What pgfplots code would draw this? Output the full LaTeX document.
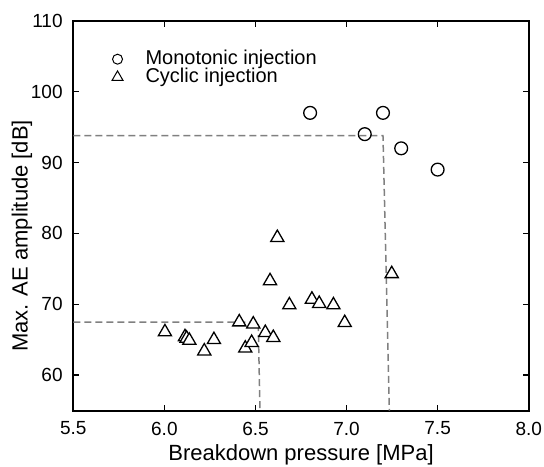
\documentclass[border=0pt]{standalone}
\usepackage{pgfplots}
\pgfplotsset{compat=1.18}
\usepackage{fontspec}
\setmainfont{Liberation Sans}
\begin{document}
\begin{tikzpicture}
\begin{axis}[
  scale only axis,
  width=227.7pt, height=195pt,
  xmin=5.5, xmax=8.0, ymin=55, ymax=110,
  xtick={5.5,6.0,6.5,7.0,7.5,8.0},
  ytick={60,70,80,90,100,110},
  /pgf/number format/assume math mode=true,
  tick label style={font=\fontsize{9.5}{11}\selectfont},
  yticklabel style={xshift=-1.8pt},
  xticklabel style={yshift=-2pt, /pgf/number format/.cd, fixed, fixed zerofill, precision=1},
  label style={font=\fontsize{11}{13}\selectfont},
  xlabel={Breakdown pressure [MPa]},
  ylabel={Max. AE amplitude [dB]},
  xlabel style={at={(axis description cs:0.5,-0.1136)}, anchor=center},
  ylabel style={at={(axis description cs:-0.1127,0.448)}, anchor=center},
  tick align=inside,
  major tick length=3pt,
  axis line style={line width=0.9pt},
  every tick/.style={line width=0.8pt, black},
  legend style={draw=none, fill=none, at={(axis description cs:0.083,0.931)}, anchor=north west,
    font=\fontsize{10}{12}\selectfont, row sep=-2.15pt, column sep=0pt, inner sep=0pt,
    nodes={inner sep=1pt, text height=7.2pt, text depth=2pt}},
  legend cell align=left,
]
\addplot[gray, line width=0.75pt, dash pattern=on 3.5pt off 2pt, forget plot]
  coordinates {(5.5,93.8) (7.2,93.8) (7.235,55)};
\addplot[gray, line width=0.75pt, dash pattern=on 3.5pt off 2pt, forget plot]
  coordinates {(5.5,67.5) (6.515,67.5) (6.525,55)};
\addplot[only marks, mark=o, mark size=3.2pt, mark options={line width=0.65pt, black, fill=white},
  legend image code/.code={\path[draw=none] (-3pt,0) -- (13pt,0);
    \draw[line width=0.5pt] (0,0) circle (2.5pt);}]
  coordinates {(6.8,97) (7.1,94) (7.2,97) (7.3,92) (7.5,89)};
\addlegendentry{Monotonic injection}
\addplot[only marks, mark=triangle*, mark size=3.8pt, mark options={line width=0.65pt, black, fill=white},
  legend image code/.code={\path[draw=none] (-3pt,0) -- (13pt,0);
    \draw[line width=0.5pt] (0,0)+(90:3.2pt) -- +(210:3.2pt) -- +(330:3.2pt) -- cycle;}]
  coordinates {
  (6.003,66.1) (6.113,65.4) (6.122,65.2) (6.137,64.9) (6.219,63.4)
  (6.272,65.0) (6.411,67.5) (6.444,63.8) (6.479,64.6) (6.488,67.2)
  (6.554,66.0) (6.598,65.3) (6.58,73.3) (6.62,79.4) (6.686,69.9)
  (6.81,70.7) (6.85,70.1) (6.928,69.9) (6.99,67.4) (7.248,74.3)};
\addlegendentry{Cyclic injection}
\end{axis}
\pgfresetboundingbox
\path ([shift={(-36.65pt,-28.15pt)}]current axis.south west) rectangle ([shift={(7.65pt,10.35pt)}]current axis.north east);
\end{tikzpicture}
\end{document}
